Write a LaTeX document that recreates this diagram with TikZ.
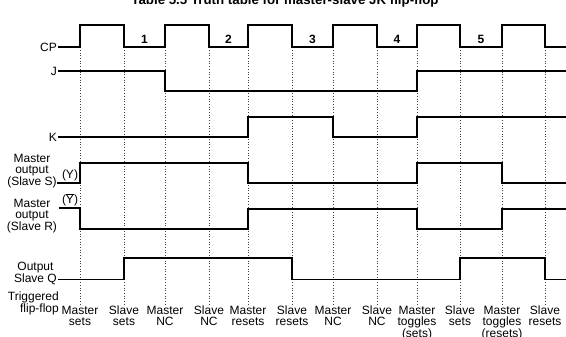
\documentclass[tikz,border=0pt]{standalone}
\usepackage{fontspec}
\setmainfont{Liberation Sans}
\usetikzlibrary{positioning}

\begin{document}
\begin{tikzpicture}[x=1pt,y=-1pt,
  sig/.style={line width=1.3pt,line join=miter},
  guide/.style={dotted,line width=.7pt,black!75},
  lab/.style={font=\fontsize{12}{11}\selectfont,inner sep=1pt,align=center},
  num/.style={font=\fontsize{12}{11}\selectfont\bfseries,inner sep=1pt}]
  \useasboundingbox (0,0) rectangle (566,337);
  \node[font=\fontsize{13.3}{13}\selectfont\bfseries,anchor=base] (title) at (285,5)
    {Table 5.5 Truth table for master-slave JK flip-flop};

  % clock edges and what each one triggers
  \foreach \x/\what [count=\i] in {80/{Master\\sets},124/{Slave\\sets},
      165/{Master\\NC},209/{Slave\\NC},248/{Master\\resets},292/{Slave\\resets},
      333/{Master\\NC},377/{Slave\\NC},417/{Master\\toggles\\(sets)},
      460/{Slave\\sets},502/{Master\\toggles\\(resets)},545/{Slave\\resets}}
  {
    \coordinate (t\i) at (\x,50);
    \draw[guide] (t\i) -- (\x,304);
    \node[lab,anchor=north] (act\i) at (\x,305) {\what};
  }
  \foreach \n/\x in {1/144.5,2/228.5,3/312.5,4/397,5/481}
    \node[num] (c\n) at (\x,39) {\n};

  % signal names
  \node[lab,anchor=east] (cp) at (58,47) {CP};
  \node[lab,anchor=east] (j) at (58,71) {J};
  \node[lab,anchor=east] (k) at (58,137) {K};
  \node[lab] (ms) at (32,171) {Master\\output\\(Slave S)};
  \node[lab] (y) at (70,175) {(Y)};
  \node[lab] (mr) at (32,216) {Master\\output\\(Slave R)};
  \node[lab] (yb) at (70,200) {($\overline{\mbox{Y}}$)};
  \node[lab,anchor=east] (q) at (58,273.5) {Output\\Slave Q};
  \node[lab,anchor=east,align=right] (trig) at (60,303.5) {Triggered\\flip-flop};

  % waveforms
  \draw[sig] (cp.east) foreach \r/\f in {80/124,165/209,248/292,333/377,417/460,502/545}
    { -- (\r,47) -- (\r,25) -- (\f,25) -- (\f,47) } -- (566,47);
  \draw[sig] (j.east) -- (165,71) -- (165,91) -- (417,91) -- (417,71) -- (566,71);
  \draw[sig] (k.east) -- (248,137) -- (248,117) -- (333,117) -- (333,137)
    -- (417,137) -- (417,117) -- (566,117);
  \draw[sig] (57,183) -- (80,183) -- (80,163) -- (248,163) -- (248,183)
    -- (417,183) -- (417,163) -- (502,163) -- (502,183) -- (566,183);
  \draw[sig] (59,208) -- (80,208) -- (80,229) -- (248,229) -- (248,209)
    -- (417,209) -- (417,229) -- (502,229) -- (502,209) -- (566,209);
  \draw[sig] (58,279.3) -- (124,279.3) -- (124,258) -- (292,258) -- (292,279.3)
    -- (460,279.3) -- (460,258) -- (545,258) -- (545,279.3) -- (566,279.3);
\end{tikzpicture}
\end{document}
